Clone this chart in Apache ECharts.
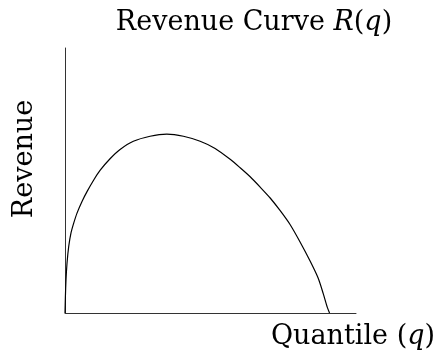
<!DOCTYPE html>
<html>
<head>
<meta charset="utf-8">
<script src="https://cdn.jsdelivr.net/npm/echarts@6/dist/echarts.min.js"></script>
<style>
  html, body { margin: 0; padding: 0; background: #fff; }
  #chart { width: 438px; height: 358px; }
</style>
</head>
<body>
<div id="chart"></div>
<script>
// Revenue as a function of the quantile q (q = 1 is where revenue returns to zero)
const quantiles = [0, 0.0015, 0.0038, 0.0076, 0.0140, 0.0227, 0.0329, 0.0454, 0.0643, 0.0832,
                   0.1086, 0.1324, 0.1703, 0.2081, 0.2584, 0.3216, 0.3848, 0.4476, 0.5108,
                   0.5675, 0.6243, 0.6621, 0.7000, 0.7378, 0.7756, 0.8135, 0.8513, 0.8891,
                   0.9270, 0.9572, 0.9762, 0.9913, 1.0];
const revenue   = [0, 0.061, 0.126, 0.188, 0.251, 0.302, 0.339, 0.377, 0.421, 0.458,
                   0.502, 0.538, 0.582, 0.617, 0.648, 0.667, 0.675, 0.667, 0.648,
                   0.621, 0.580, 0.548, 0.514, 0.475, 0.434, 0.386, 0.333, 0.267,
                   0.195, 0.131, 0.073, 0.022, 0];

const titleText = 'Revenue Curve ';
const xName = 'Quantile ';
const yName = 'Revenue';

const FONT = '"DejaVu Serif", "Liberation Serif", serif';
const SIZE = 27;

const chart = echarts.init(document.getElementById('chart'), null, { renderer: 'canvas' });

const plain = { fontFamily: FONT, fontSize: SIZE, color: '#000', fontStyle: 'normal', fontWeight: 'normal' };
const ital  = { fontFamily: FONT, fontSize: SIZE, color: '#000', fontStyle: 'italic', fontWeight: 'normal' };

chart.setOption({
  animation: false,
  backgroundColor: '#fff',
  grid: { left: 65, top: 48, right: 82, bottom: 45 },
  title: {
    text: '{n|' + titleText + '}{i|R}{n|(}{i|q}{n|)}',
    left: 249,
    textAlign: 'center',
    top: 4,
    textStyle: { fontWeight: 'normal', rich: { n: plain, i: ital } }
  },
  xAxis: {
    type: 'value',
    min: 0,
    max: 1.1,
    axisLine: { show: true, lineStyle: { color: '#333', width: 1 } },
    axisTick: { show: false },
    axisLabel: { show: false },
    splitLine: { show: false }
  },
  yAxis: {
    type: 'value',
    min: 0,
    max: 1,
    axisLine: { show: true, lineStyle: { color: '#333', width: 1 } },
    axisTick: { show: false },
    axisLabel: { show: false },
    splitLine: { show: false }
  },
  graphic: [
    {
      type: 'text',
      x: 435,
      y: 337,
      style: {
        text: '{n|' + xName + '(}{i|q}{n|)}',
        textAlign: 'right',
        textVerticalAlign: 'middle',
        rich: { n: plain, i: ital }
      }
    },
    {
      type: 'text',
      x: 25,
      y: 159,
      rotation: Math.PI / 2,
      style: {
        text: yName,
        textAlign: 'center',
        textVerticalAlign: 'middle',
        font: SIZE + 'px ' + FONT,
        fill: '#000'
      }
    }
  ],
  series: [{
    type: 'line',
    data: quantiles.map((q, i) => [q, revenue[i]]),
    showSymbol: false,
    smooth: 0.25,
    lineStyle: { color: '#000', width: 1.2 }
  }]
});
</script>
</body>
</html>
